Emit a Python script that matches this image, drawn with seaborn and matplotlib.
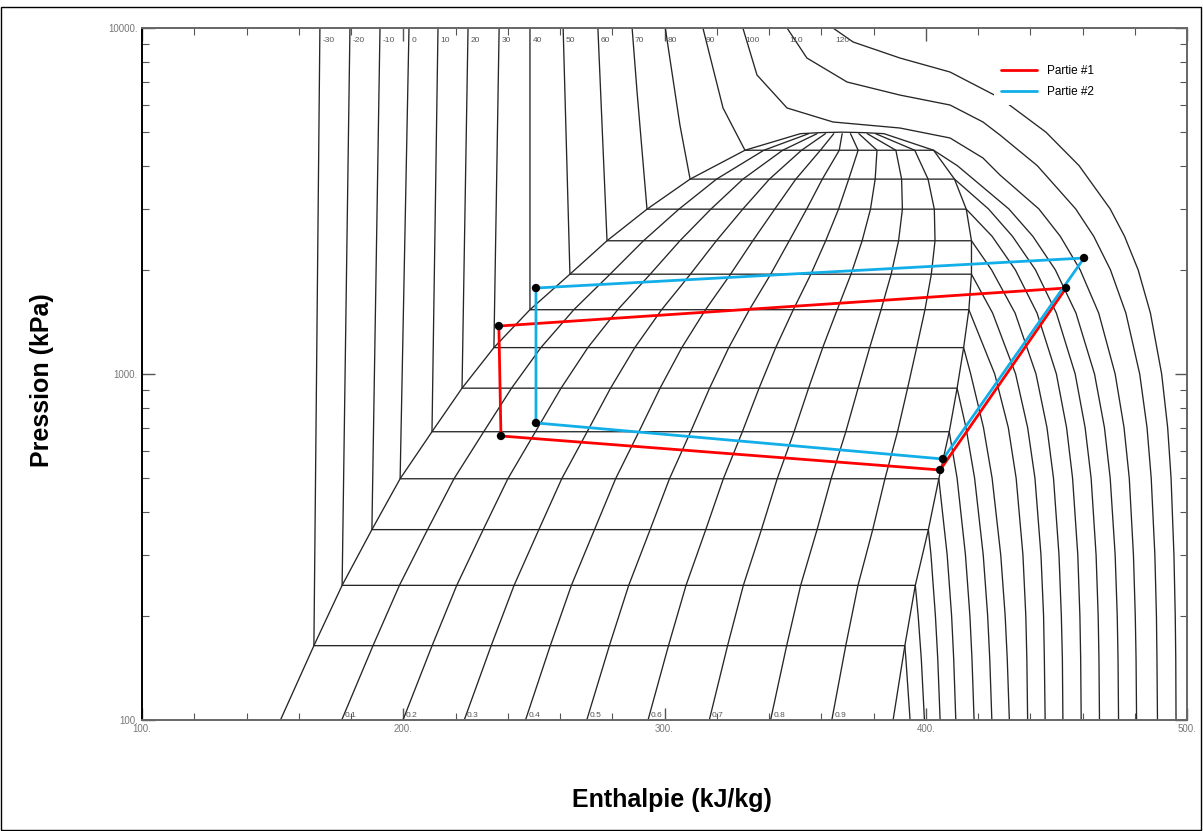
import matplotlib
matplotlib.use('Agg')
import matplotlib.pyplot as plt
import seaborn as sns
import pandas as pd
from matplotlib.patches import Rectangle
from matplotlib.ticker import FixedLocator, FixedFormatter, LogLocator, NullFormatter

# saturation values (kPa, kJ/kg)
sat_T = [-30, -20, -10, 0, 10, 20, 30, 40, 50, 60, 70, 80, 90]
sat_P = [164, 245, 355, 498, 681, 910, 1192, 1534, 1943, 2427, 2995, 3658, 4433]
sat_hf = [165.8, 176.6, 188.0, 198.8, 211.0, 222.5, 234.7, 248.5, 263.8, 278.0, 293.3, 309.8, 330.8]
sat_hg = [392.0, 396.0, 401.0, 405.0, 409.0, 412.0, 414.5, 416.5, 417.5, 417.5, 415.5, 411.0, 403.0]

# bottom of the dome (100 kPa) and its flat cap near the critical point
bottom_hf, bottom_hg = 153.0, 387.5
cap_P = [4950, 4985, 5000, 4985, 4950]
cap_h = [352.0, 360.0, 368.0, 376.0, 384.0]

qualities = [0.1, 0.2, 0.3, 0.4, 0.5, 0.6, 0.7, 0.8, 0.9]

# liquid part of the isotherms: enthalpy at the top of the chart (10000 kPa)
liq_top_h = [168.1, 179.6, 191.1, 202.2, 213.3, 224.8, 236.7, 248.5, 261.2, 274.5, 287.6, 300.3, 314.7]
liq_bend_T = [70, 80, 90]
liq_bend_P = [6531, 5245, 5873]
liq_bend_h = [289.5, 305.9, 322.4]

# vapour part of the subcritical isotherms, on a common pressure grid
vap_P = [100, 150, 200, 300, 500, 700, 1000, 1500, 2000, 2500, 3000, 4000]
iso_m30 = [394.0, 392.4]
iso_m20 = [399.5, 398.3, 397.1]
iso_m10 = [405.5, 404.6, 403.7, 402.0]
iso_0 = [411.5, 410.7, 409.9, 408.2]
iso_10 = [418.5, 417.7, 416.9, 415.2, 412.0]
iso_20 = [425.3, 424.5, 423.7, 422.0, 418.7, 415.4]
iso_30 = [432.0, 431.2, 430.4, 428.7, 425.4, 422.1, 417.2]
iso_40 = [439.0, 438.7, 438.3, 437.2, 434.6, 431.6, 426.4]
iso_50 = [445.7, 445.4, 445.1, 444.1, 441.8, 439.0, 434.4, 425.6]
iso_60 = [452.5, 452.3, 451.9, 451.0, 448.9, 446.4, 442.2, 434.2, 425.2]
iso_70 = [459.5, 459.3, 459.0, 458.2, 456.2, 453.9, 450.0, 442.6, 434.3, 425.4]
iso_80 = [466.5, 466.3, 466.0, 465.2, 463.3, 461.0, 457.2, 450.0, 442.0, 433.2, 424.0]
iso_90 = [473.8, 473.6, 473.3, 472.5, 470.6, 468.4, 464.6, 457.5, 449.6, 441.0, 431.8, 412.1]
vapour_h = [iso_m30, iso_m20, iso_m10, iso_0, iso_10, iso_20, iso_30, iso_40,
            iso_50, iso_60, iso_70, iso_80, iso_90]

# supercritical isotherms
iso_100_P = [100, 150, 200, 300, 500, 700, 1000, 1500, 2000, 2500, 3000, 3760, 4210, 4810, 5140, 5350, 5873, 7315, 10000]
iso_100_h = [480.7, 480.5, 480.2, 479.5, 477.9, 475.9, 472.5, 466.2, 459.1, 451.5, 443.3, 428.4, 421.9, 409.3, 390.1, 364.5, 346.9, 335.4, 330.0]
iso_110_P = [100, 150, 200, 300, 500, 700, 1000, 1500, 2000, 2500, 3000, 4000, 4907, 5350, 5990, 6400, 6980, 8190, 10000]
iso_110_h = [488.7, 488.5, 488.3, 487.7, 486.3, 484.7, 481.9, 476.6, 470.7, 464.3, 457.4, 442.7, 428.4, 421.9, 409.3, 390.1, 369.9, 354.5, 346.9]
iso_120_P = [100, 150, 200, 300, 500, 700, 1000, 1500, 2000, 2500, 3000, 4000, 5000, 6280, 7460, 8190, 9110, 10000]
iso_120_h = [495.8, 495.7, 495.5, 495.0, 493.9, 492.6, 490.3, 486.0, 481.3, 476.1, 470.6, 458.7, 446.0, 428.4, 409.3, 390.1, 372.2, 364.5]
super_T = [100, 110, 120]

# the two cycles
cycle1_h = [236.6, 237.4, 405.5, 453.7, 236.6]
cycle1_P = [1376, 662, 528, 1772, 1376]
cycle2_h = [250.8, 250.8, 406.6, 460.6, 250.8]
cycle2_P = [1772, 722, 568, 2164, 1772]
cycle_names = ['Partie #1', 'Partie #2']

sns.set_style('ticks')
plt.rcParams['font.family'] = ['Liberation Sans', 'DejaVu Sans']

fig = plt.figure(figsize=(12.03, 8.31), dpi=100)
ax = fig.add_axes([142 / 1203, 1 - 720 / 831, 1045 / 1203, 692 / 831])
ax.set_yscale('log')

grid_kw = dict(color='#262626', lw=0.95, zorder=2)

# dome
dome_h = [bottom_hf] + sat_hf + cap_h + sat_hg[::-1] + [bottom_hg]
dome_P = [100] + sat_P + cap_P + sat_P[::-1] + [100]
ax.plot(dome_h, dome_P, **grid_kw)

# quality lines
all_P = [100] + sat_P + [cap_P[0]]
all_hf = [bottom_hf] + sat_hf + [cap_h[0]]
all_hg = [bottom_hg] + sat_hg + [cap_h[-1]]
for x in qualities:
    hq = [f + x * (g - f) for f, g in zip(all_hf, all_hg)]
    ax.plot(hq, all_P, **grid_kw)
    ax.annotate(f'{x:.1f}', (hq[0], 100), xytext=(2, 1), textcoords='offset points',
                fontsize=6, color='#555', va='bottom', ha='left', annotation_clip=False)

# subcritical isotherms: liquid, two-phase, vapour
for i, T in enumerate(sat_T):
    lh = [liq_top_h[i]]
    lp = [10000]
    if T in liq_bend_T:
        k = liq_bend_T.index(T)
        lh.append(liq_bend_h[k])
        lp.append(liq_bend_P[k])
    lh += [sat_hf[i], sat_hg[i]]
    lp += [sat_P[i], sat_P[i]]
    vh = vapour_h[i][::-1]
    vp = vap_P[:len(vapour_h[i])][::-1]
    ax.plot(lh + vh, lp + vp, **grid_kw)
    ax.annotate(str(T), (liq_top_h[i], 10000), xytext=(2, -9), textcoords='offset points',
                fontsize=6, color='#555', va='center', ha='left')

for T, hs, ps in zip(super_T, [iso_100_h, iso_110_h, iso_120_h], [iso_100_P, iso_110_P, iso_120_P]):
    ax.plot(hs, ps, **grid_kw)
    ax.annotate(str(T), (hs[-1], 10000), xytext=(2, -9), textcoords='offset points',
                fontsize=6, color='#555', va='center', ha='left')

# cycles
cyc = pd.DataFrame({
    'h': cycle1_h + cycle2_h,
    'P': cycle1_P + cycle2_P,
    'cycle': [cycle_names[0]] * len(cycle1_h) + [cycle_names[1]] * len(cycle2_h),
})
sns.lineplot(data=cyc, x='h', y='P', hue='cycle', units='cycle', sort=False, estimator=None,
             palette=['#ff0000', '#12aee8'], lw=2.0, ax=ax, zorder=4)
sns.scatterplot(x=cycle1_h[:-1] + cycle2_h[:-1], y=cycle1_P[:-1] + cycle2_P[:-1],
                color='black', s=36, edgecolor='none', ax=ax, zorder=5, legend=False)

ax.set_xlim(100, 500)
ax.set_ylim(100, 10000)
ax.set_xlabel('')
ax.set_ylabel('')

ax.xaxis.set_major_locator(FixedLocator([100, 200, 300, 400, 500]))
ax.xaxis.set_major_formatter(FixedFormatter(['100.', '200.', '300.', '400.', '500.']))
ax.xaxis.set_minor_locator(FixedLocator(list(range(120, 500, 20))))
ax.yaxis.set_major_locator(FixedLocator([100, 1000, 10000]))
ax.yaxis.set_major_formatter(FixedFormatter(['100.', '1000.', '10000.']))
ax.yaxis.set_minor_locator(LogLocator(base=10, subs=range(2, 10)))
ax.yaxis.set_minor_formatter(NullFormatter())
ax.tick_params(which='both', direction='in', top=True, right=True, color='#555',
               labelsize=7, labelcolor='#777', pad=3)
ax.tick_params(which='major', length=9, width=1.0)
ax.tick_params(which='minor', length=5, width=0.8)
for s in ax.spines.values():
    s.set_color('#666')
    s.set_linewidth(1.4)
ax.spines['left'].set_color('black')

leg = ax.legend(loc='upper left', bbox_to_anchor=(0.81, 0.965), frameon=True, fontsize=8.5,
                handlelength=3.0, handletextpad=0.9, borderpad=0.6, labelspacing=0.75)
leg.get_frame().set_edgecolor('none')
leg.get_frame().set_facecolor('white')
leg.get_frame().set_alpha(1)
leg.set_zorder(6)
for t in leg.get_texts():
    t.set_color('black')

fig.text(672 / 1203, 1 - 800 / 831, 'Enthalpie (kJ/kg)', ha='center', va='center',
         fontsize=18, fontweight='bold', color='black')
fig.text(42 / 1203, 1 - 380 / 831, 'Pression (kPa)', ha='center', va='center',
         rotation=90, fontsize=18, fontweight='bold', color='black')

fig.patches.append(Rectangle((0.0012, 0.0012), 0.9971, 0.9904, transform=fig.transFigure,
                             fill=False, edgecolor='black', lw=1.0))

fig.savefig('out.png', dpi=100)
